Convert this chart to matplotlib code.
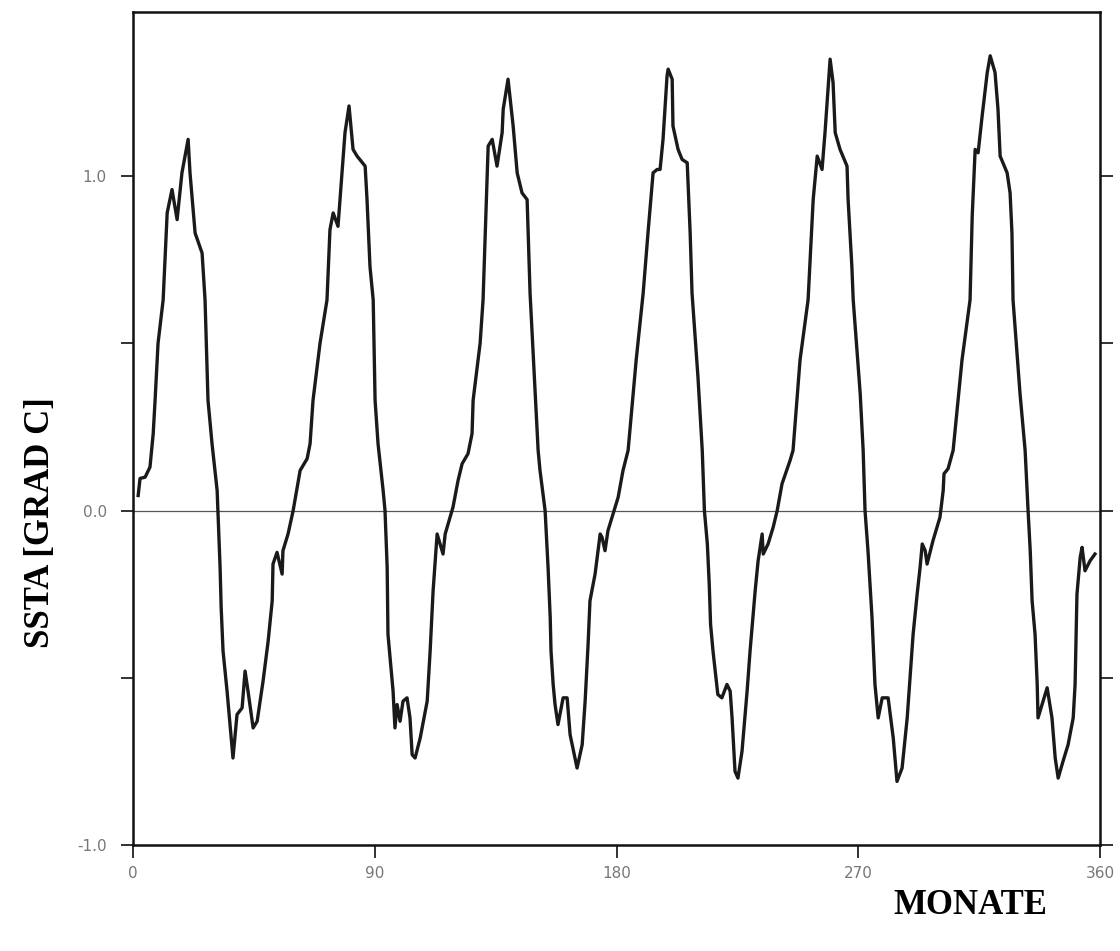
import numpy as np
import matplotlib
matplotlib.use("Agg")
import matplotlib.pyplot as plt

# Monate (x) und SSTA-Werte in Grad C (y)
monate = [1.9, 2.6, 4.5, 6.3, 7.5, 8.2, 9.3, 11.2, 12.7, 14.5, 16.4, 18.2, 20.5, 21.2,
          23.1, 25.7, 26.8, 27.9, 29.4, 31.3, 32.4, 32.8, 33.5, 35.0, 37.2, 38.7, 40.6,
          41.7, 42.8, 44.7, 46.2, 48.4, 50.3, 51.8, 52.1, 53.6, 55.5, 55.8, 57.7, 59.6,
          62.2, 64.8, 65.9, 67.0, 69.6, 72.2, 73.3, 74.5, 76.3, 77.8, 78.9, 80.4, 81.9,
          83.4, 86.4, 87.1, 88.2, 89.4, 90.1, 91.2, 93.1, 93.8, 94.6, 94.9, 96.8, 97.5,
          98.3, 99.4, 100.5, 102.0, 103.1, 103.9, 105.0, 106.9, 109.5, 110.6, 111.7, 113.2,
          115.4, 116.2, 119.1, 121.0, 122.5, 124.7, 126.2, 126.6, 129.2, 130.3, 132.2,
          133.7, 135.5, 137.4, 137.8, 139.6, 141.1, 141.5, 143.0, 144.8, 146.7, 147.8,
          150.8, 151.5, 153.4, 154.5, 155.3, 155.6, 156.4, 157.1, 158.2, 160.1, 161.6,
          162.7, 165.3, 167.2, 168.3, 169.4, 170.1, 172.0, 173.9, 174.6, 175.7, 176.8,
          178.7, 180.6, 182.4, 184.3, 187.3, 189.9, 191.7, 193.6, 195.1, 196.2, 197.3,
          198.8, 199.2, 200.7, 201.0, 202.9, 204.4, 206.3, 207.4, 208.1, 210.3, 211.9,
          212.7, 213.8, 214.5, 215.0, 215.9, 217.7, 219.2, 221.1, 222.3, 223.0, 224.1,
          225.2, 226.7, 228.6, 229.7, 231.6, 232.7, 234.2, 234.6, 236.4, 238.3, 239.8,
          241.6, 244.6, 245.7, 248.3, 251.3, 253.2, 254.7, 256.5, 257.6, 259.5, 260.6,
          261.4, 263.2, 265.8, 266.2, 267.6, 268.1, 270.7, 271.8, 272.5, 273.6, 275.1,
          276.2, 277.4, 278.9, 281.1, 283.0, 284.4, 286.3, 288.2, 290.4, 291.9, 293.0,
          293.8, 294.9, 295.6, 297.8, 300.4, 301.6, 301.9, 303.4, 305.3, 308.6, 311.6,
          312.4, 313.5, 314.6, 316.1, 318.0, 319.1, 320.9, 322.0, 322.8, 325.4, 326.5,
          327.2, 327.6, 330.2, 332.1, 333.2, 334.0, 334.7, 335.8, 336.6, 336.9, 338.4,
          340.3, 342.1, 343.3, 344.4, 346.2, 348.1, 350.0, 350.7, 351.1, 351.4, 352.6,
          353.3, 354.4, 356.3, 358.1]
ssta = [0.045, 0.096, 0.10, 0.13, 0.23, 0.33, 0.50, 0.63, 0.89, 0.96, 0.87, 1.01, 1.11, 1.01,
        0.83, 0.77, 0.63, 0.33, 0.20, 0.06, -0.17, -0.29, -0.42, -0.54, -0.74, -0.61, -0.59,
        -0.48, -0.54, -0.65, -0.63, -0.51, -0.39, -0.27, -0.16, -0.125, -0.19, -0.12, -0.07, 0.0,
        0.12, 0.155, 0.20, 0.33, 0.50, 0.63, 0.84, 0.89, 0.85, 1.01, 1.13, 1.21, 1.08,
        1.06, 1.03, 0.93, 0.73, 0.63, 0.33, 0.20, 0.06, 0.0, -0.17, -0.37, -0.54, -0.65,
        -0.58, -0.63, -0.57, -0.56, -0.62, -0.73, -0.74, -0.68, -0.57, -0.42, -0.24, -0.07,
        -0.13, -0.07, 0.01, 0.09, 0.14, 0.17, 0.23, 0.33, 0.50, 0.63, 1.09,
        1.11, 1.03, 1.13, 1.20, 1.29, 1.18, 1.15, 1.01, 0.95, 0.93, 0.65,
        0.18, 0.12, 0.0, -0.17, -0.32, -0.42, -0.52, -0.58, -0.64, -0.56, -0.56,
        -0.67, -0.77, -0.70, -0.57, -0.40, -0.27, -0.19, -0.07, -0.08, -0.12, -0.06,
        -0.01, 0.04, 0.12, 0.18, 0.45, 0.65, 0.83, 1.01, 1.02, 1.02, 1.11,
        1.30, 1.32, 1.29, 1.15, 1.08, 1.05, 1.04, 0.83, 0.65, 0.40, 0.18,
        0.0, -0.10, -0.22, -0.34, -0.42, -0.55, -0.56, -0.52, -0.54, -0.62, -0.78,
        -0.80, -0.72, -0.54, -0.42, -0.24, -0.15, -0.07, -0.13, -0.10, -0.05, 0.0,
        0.08, 0.15, 0.18, 0.45, 0.63, 0.93, 1.06, 1.02, 1.13, 1.35, 1.28,
        1.13, 1.08, 1.03, 0.93, 0.73, 0.63, 0.35, 0.18, 0.0, -0.12, -0.32,
        -0.52, -0.62, -0.56, -0.56, -0.68, -0.81, -0.77, -0.62, -0.37, -0.25, -0.17,
        -0.10, -0.12, -0.16, -0.09, -0.02, 0.06, 0.11, 0.125, 0.18, 0.45, 0.63,
        0.88, 1.08, 1.07, 1.18, 1.31, 1.36, 1.31, 1.20, 1.06, 1.01, 0.95,
        0.83, 0.63, 0.35, 0.18, 0.0, -0.12, -0.27, -0.37, -0.52, -0.62, -0.58,
        -0.53, -0.62, -0.74, -0.80, -0.75, -0.70, -0.62, -0.52, -0.37, -0.25, -0.14,
        -0.11, -0.18, -0.15, -0.13]

x_ticks = [0, 90, 180, 270, 360]
y_ticks = [-1.0, 0.0, 1.0]
y_ticklabels = ["-1.0", "0.0", "1.0"]

tick_font = ['Liberation Sans Narrow', 'DejaVu Sans']

fig = plt.figure(figsize=(11.2, 9.51), dpi=100)
ax = fig.add_axes([0.1188, 0.1115, 0.8634, 0.8759])

ax.axhline(0, color='#555555', lw=0.9, zorder=1)
ax.plot(monate, ssta, color='#1a1a1a', lw=2.4, zorder=2)

ax.set_xlim(0, 360)
ax.set_ylim(-1.0, 1.491)

for s in ax.spines.values():
    s.set_linewidth(1.8)
    s.set_color('#111111')

ax.set_xticks(x_ticks)
ax.set_xticklabels([str(v) for v in x_ticks], family=tick_font, fontsize=11, color='#777777')
ax.set_yticks(y_ticks)
ax.set_yticklabels(y_ticklabels, family=tick_font, fontsize=11, color='#777777')
ax.set_yticks([-0.5, 0.5], minor=True)
ax.tick_params(axis='both', which='both', direction='out', length=9, width=1.3,
               color='#222222', right=True)
ax.tick_params(axis='x', pad=6)
ax.tick_params(axis='y', pad=10)

fig.text(0.036, 0.45, 'SSTA [GRAD C]', rotation=90, ha='center', va='center',
         family='Liberation Serif', fontweight='bold', fontsize=25)
fig.text(0.866, 0.048, 'MONATE', ha='center', va='center',
         family='Liberation Serif', fontweight='bold', fontsize=25)

plt.savefig('out.png', dpi=100)
